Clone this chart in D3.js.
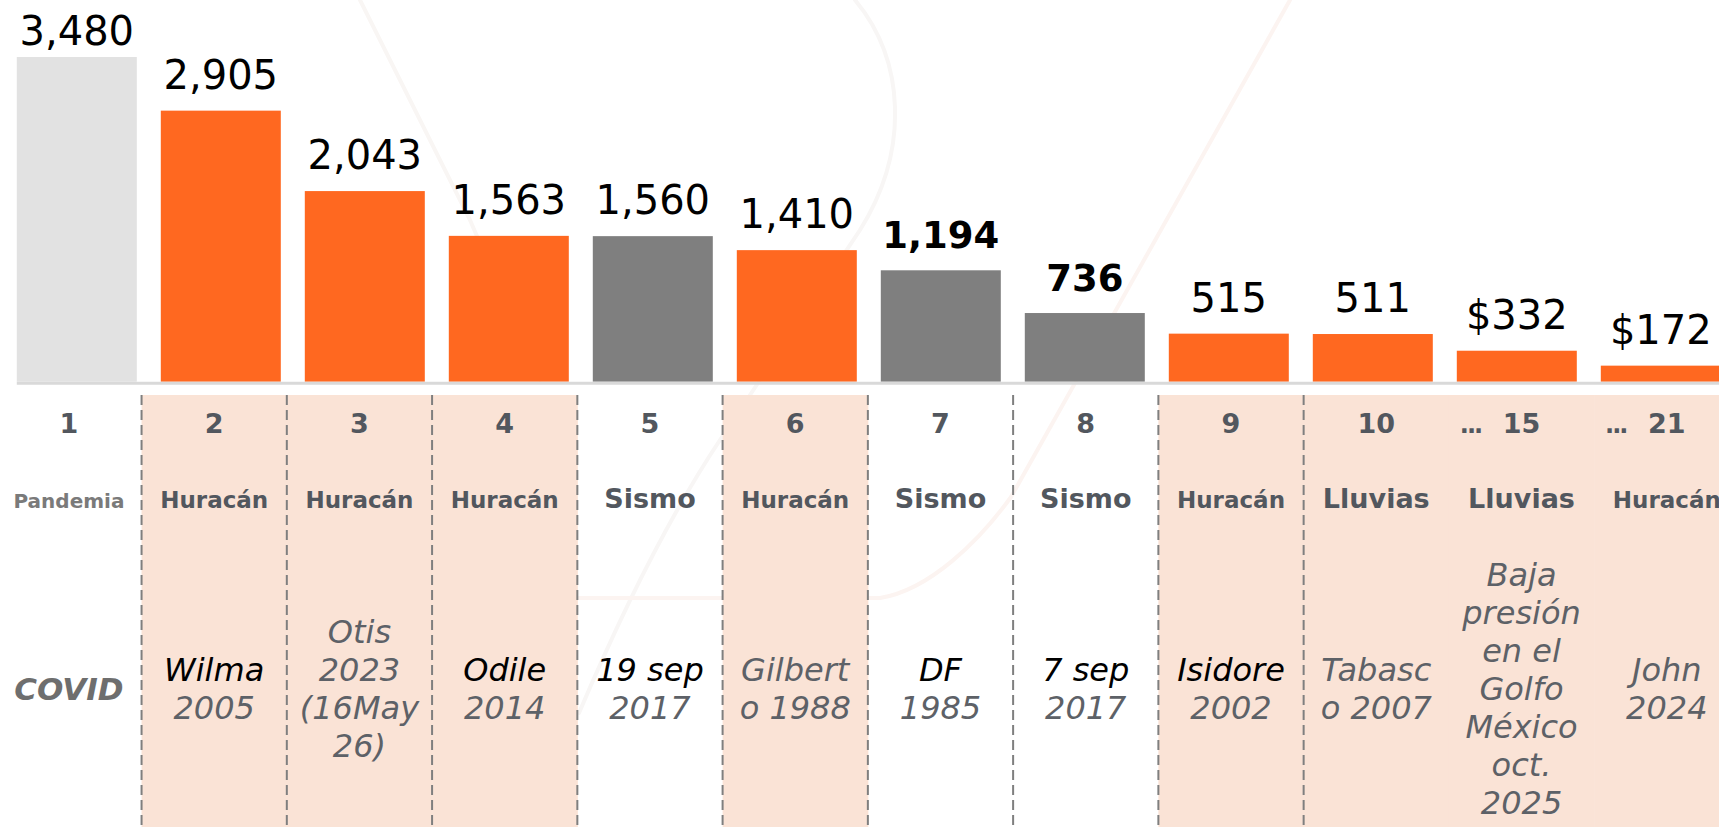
<!DOCTYPE html>
<html>
<head>
<meta charset="utf-8">
<script src="https://cdn.jsdelivr.net/npm/d3@7"></script>
<style>
  body { margin: 0; background: #fff; overflow: hidden; }
  svg { display: block; font-family: 'DejaVu Sans', sans-serif; }
</style>
</head>
<body>
<svg></svg>
<script>
let width = 1719;
let height = 827;

// chart data
let ranks = ["1", "2", "3", "4", "5", "6", "7", "8", "9", "10", "15", "21"];
let rankPrefix = ["", "", "", "", "", "", "", "", "", "", "...", "..."];
let values = [3480, 2905, 2043, 1563, 1560, 1410, 1194, 736, 515, 511, 332, 172];
let valueLabels = ["3,480", "2,905", "2,043", "1,563", "1,560", "1,410", "1,194", "736", "515", "511", "$332", "$172"];
let boldLabels = ["1,194", "736"];
let kinds = ["Pandemia", "Huracán", "Huracán", "Huracán", "Sismo", "Huracán", "Sismo", "Sismo", "Huracán", "Lluvias", "Lluvias", "Huracán"];
let descriptions = [
    ["COVID"],
    ["Wilma", "2005"],
    ["Otis", "2023", "(16May", "26)"],
    ["Odile", "2014"],
    ["19 sep", "2017"],
    ["Gilbert", "o 1988"],
    ["DF", "1985"],
    ["7 sep", "2017"],
    ["Isidore", "2002"],
    ["Tabasc", "o 2007"],
    ["Baja", "presión", "en el", "Golfo", "México", "oct.", "2025"],
    ["John", "2024"]
];
let darkNames = ["Wilma", "Odile", "19 sep", "DF", "7 sep", "Isidore"];

let data = ranks.map((r, i) => ({
    rank: r,
    prefix: rankPrefix[i],
    value: values[i],
    label: valueLabels[i],
    kind: kinds[i],
    desc: descriptions[i]
}));

let barColor = d3.scaleOrdinal()
    .domain(["Pandemia", "Huracán", "Lluvias", "Sismo"])
    .range(["#e2e2e2", "#ff6820", "#ff6820", "#7f7f7f"]);

let kindSize = d3.scaleOrdinal()
    .domain(["Pandemia", "Huracán", "Lluvias", "Sismo"])
    .range([20, 23, 27, 27]);

let xScale = d3.scaleBand()
    .domain(ranks)
    .range([4.8, 4.8 + 12 * 144])
    .paddingInner(24 / 144)
    .paddingOuter(12 / 144);

// the table below the bars has slightly wider columns
let colScale = d3.scaleBand()
    .domain(ranks)
    .range([-3.7, -3.7 + 12 * 145.26]);

let yScale = d3.scaleLinear()
    .domain([0, d3.max(values)])
    .range([381.7, 57]);

let svg = d3.select('svg')
    .attr('width', width)
    .attr('height', height);

// faint background watermark strokes
let wm = svg.append('g')
    .attr('fill', 'none')
    .attr('stroke-width', 4)
    .attr('stroke-linecap', 'round');
wm.append('path')
    .attr('d', 'M855,0 C905,60 910,150 860,230 L720,440 C660,530 610,640 579,713')
    .attr('stroke', '#f8f6f5');
wm.append('path')
    .attr('d', 'M579,598 L880,598 C930,590 980,540 1011,497 L1290,0')
    .attr('stroke', '#fcf4f1');
wm.append('path')
    .attr('d', 'M360,0 L470,220 C500,290 520,330 540,380')
    .attr('stroke', '#f9f6f4');

// shaded table columns
let tableTop = 395;
svg.selectAll('rect.shade')
    .data(data.filter(d => d.kind === "Huracán" || d.kind === "Lluvias"))
    .enter()
    .append('rect')
        .attr('class', 'shade')
        .attr('x', d => colScale(d.rank))
        .attr('y', tableTop)
        .attr('width', colScale.bandwidth() + 0.5)
        .attr('height', height - tableTop)
        .attr('fill', '#fae3d6');

// dashed separators
svg.selectAll('line.sep')
    .data(ranks.slice(1, 10))
    .enter()
    .append('line')
        .attr('class', 'sep')
        .attr('x1', d => colScale(d))
        .attr('x2', d => colScale(d))
        .attr('y1', tableTop)
        .attr('y2', height)
        .attr('stroke', '#7f7f7f')
        .attr('stroke-width', 2)
        .attr('stroke-dasharray', '10,5');

// bars
svg.selectAll('rect.bar')
    .data(data)
    .enter()
    .append('rect')
        .attr('class', 'bar')
        .attr('x', d => xScale(d.rank))
        .attr('y', d => yScale(d.value))
        .attr('width', xScale.bandwidth())
        .attr('height', d => yScale(0) - yScale(d.value))
        .attr('fill', d => barColor(d.kind));

// baseline
svg.append('line')
    .attr('x1', xScale(ranks[0]))
    .attr('x2', width)
    .attr('y1', 383.3)
    .attr('y2', 383.3)
    .attr('stroke', '#d9d9d9')
    .attr('stroke-width', 3);

// value labels
svg.selectAll('text.value')
    .data(data)
    .enter()
    .append('text')
        .attr('class', 'value')
        .attr('x', d => xScale(d.rank) + xScale.bandwidth() / 2)
        .attr('y', d => Math.max(yScale(d.value) - 22, 45))
        .attr('text-anchor', 'middle')
        .attr('font-size', d => boldLabels.includes(d.label) ? 37 : 40)
        .attr('font-weight', d => boldLabels.includes(d.label) ? 'bold' : 'normal')
        .attr('fill', '#000')
        .text(d => d.label);

// rank row
let cx = d => colScale(d.rank) + colScale.bandwidth() / 2;

svg.selectAll('text.rank')
    .data(data)
    .enter()
    .append('text')
        .attr('class', 'rank')
        .attr('x', cx)
        .attr('y', 433)
        .attr('text-anchor', 'middle')
        .attr('font-size', 27)
        .attr('font-weight', 'bold')
        .attr('fill', '#52575e')
        .text(d => d.rank);

svg.selectAll('text.dots')
    .data(data.filter(d => d.prefix))
    .enter()
    .append('text')
        .attr('class', 'dots')
        .attr('x', d => cx(d) - 51)
        .attr('y', 433)
        .attr('text-anchor', 'middle')
        .attr('font-size', 24)
        .attr('font-weight', 'bold')
        .attr('letter-spacing', -2)
        .attr('fill', '#52575e')
        .text(d => d.prefix);

// kind row
svg.selectAll('text.kind')
    .data(data)
    .enter()
    .append('text')
        .attr('class', 'kind')
        .attr('x', cx)
        .attr('y', 508)
        .attr('text-anchor', 'middle')
        .attr('font-size', d => kindSize(d.kind))
        .attr('font-weight', 'bold')
        .attr('fill', d => d.kind === "Pandemia" ? '#7a7a7a' : '#52575e')
        .text(d => d.kind);

// description row
let lineH = 38;
let descMid = 700;
let desc = svg.selectAll('text.desc')
    .data(data)
    .enter()
    .append('text')
        .attr('class', 'desc')
        .attr('text-anchor', 'middle')
        .attr('font-style', 'italic')
        .attr('font-size', d => d.kind === "Pandemia" ? 31 : 32)
        .attr('font-weight', d => d.kind === "Pandemia" ? 'bold' : 'normal');

desc.selectAll('tspan')
    .data(d => d.desc.map((t, i) => ({ t: t, i: i, n: d.desc.length, x: cx(d), covid: d.kind === "Pandemia" })))
    .enter()
    .append('tspan')
        .attr('x', d => d.x)
        .attr('y', d => descMid + (d.i - (d.n - 1) / 2) * lineH)
        .attr('fill', d => d.covid ? '#6e6e6e' : (darkNames.includes(d.t) && d.i === 0 ? '#000' : '#5d6167'))
        .text(d => d.t);
</script>
</body>
</html>
